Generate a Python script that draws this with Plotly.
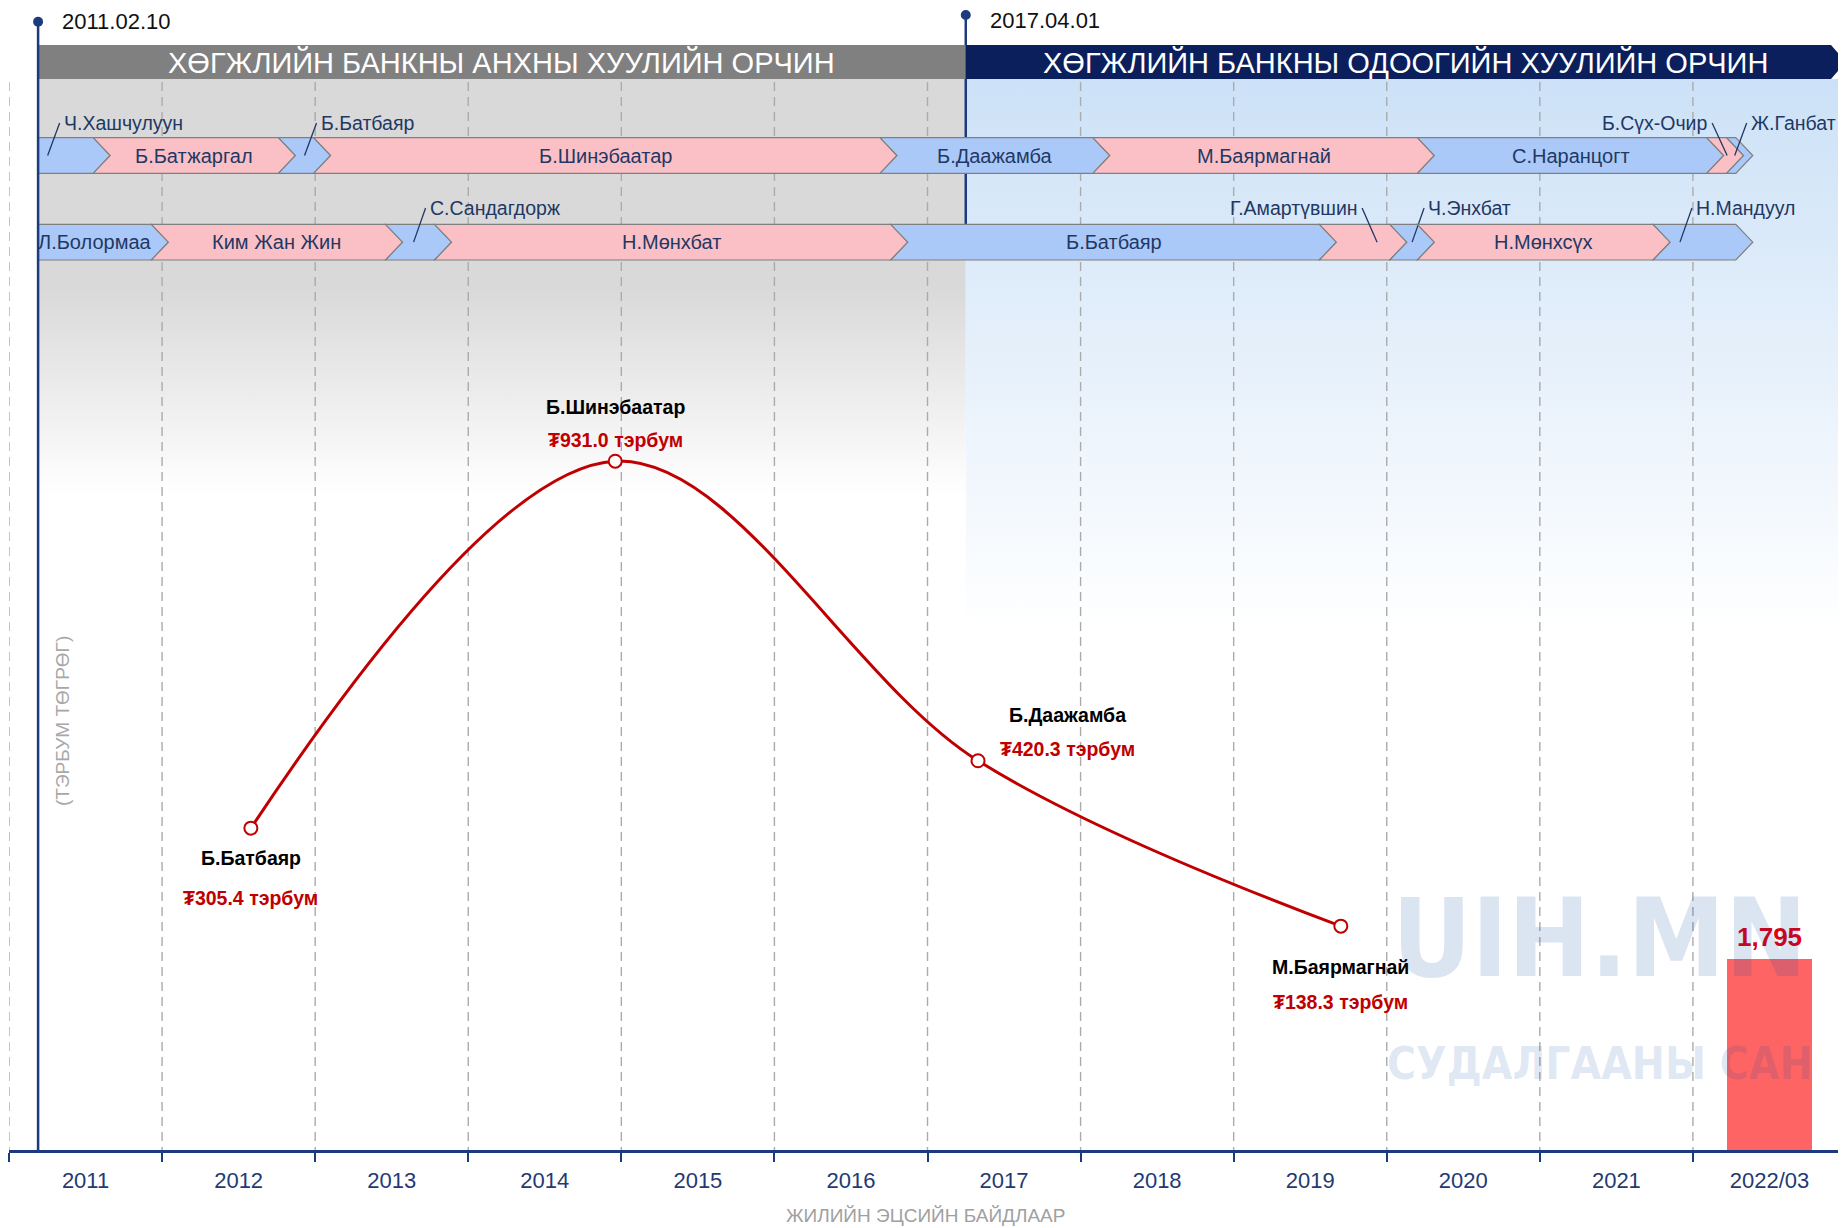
import plotly.graph_objects as go

# ---------------- data ----------------
year_labels = ["2011", "2012", "2013", "2014", "2015", "2016", "2017",
               "2018", "2019", "2020", "2021", "2022/03"]
first_year = 2011

law_dates = ["2011.02.10", "2017.04.01"]
law_starts = [2011.19, 2017.25]
law_end = 2023.0
law_titles = ["ХӨГЖЛИЙН БАНКНЫ АНХНЫ ХУУЛИЙН ОРЧИН",
              "ХӨГЖЛИЙН БАНКНЫ ОДООГИЙН ХУУЛИЙН ОРЧИН"]

row1_start = 2011.19
row1_names = ["Ч.Хашчулуун", "Б.Батжаргал", "Б.Батбаяр", "Б.Шинэбаатар", "Б.Даажамба",
              "М.Баярмагнай", "С.Наранцогт", "Б.Сүх-Очир", "Ж.Ганбат"]
row1_ends = [2011.55, 2012.76, 2012.99, 2016.69, 2018.08, 2020.20, 2022.09, 2022.22, 2022.28]

row2_start = 2011.19
row2_names = ["Л.Болормаа", "Ким Жан Жин", "С.Сандагдорж", "Н.Мөнхбат", "Б.Батбаяр",
              "Г.Амартүвшин", "Ч.Энхбат", "Н.Мөнхсүх", "Н.Мандуул"]
row2_ends = [2011.93, 2013.46, 2013.78, 2016.76, 2019.56, 2020.02, 2020.20, 2021.74, 2022.28]

curve_names = ["Б.Батбаяр", "Б.Шинэбаатар", "Б.Даажамба", "М.Баярмагнай"]
curve_x = [2012.58, 2014.96, 2017.33, 2019.70]
curve_values = [305.4, 931.0, 420.3, 138.3]

bar_x = [2022.5]
bar_values = [1795]

# ---------------- style / layout helpers ----------------
row1_label_mode = ["right", "in", "right", "in", "in", "in", "in", "left", "right"]
row2_label_mode = ["in", "in", "right", "in", "in", "left", "right", "in", "right"]
# horizontal nudge (px) of the leader-line anchor for outside labels
row1_leader_nudge = [-18, 0, 0, 0, 0, 0, 0, 2, -5]
row2_leader_nudge = [0, 0, -5, 0, 0, 14, 0, 0, -23]
# (xshift, name yshift, value yshift) in px
curve_label_offsets = [(0, -30, -70), (0, 54, 21), (89, 46, 12), (0, -41, -76)]

W, H = 1846, 1228
OFF = 8                      # page body margin of the html page
AX_LEFT = 9.4                # screen x of the first year boundary
AX_BOTTOM = 1150             # screen y of the x axis line
ML = 1
MR = 8
MB = H - (AX_BOTTOM - OFF)
PLOT_W = W - ML - MR
PLOT_H = AX_BOTTOM - OFF
PX_PER_YEAR = PLOT_W / 12.0


def dx(px):
    return px / PX_PER_YEAR


def Y(px):  # screen pixel row -> y coordinate on pixel axis
    return AX_BOTTOM - px


def paper_x(px):
    return (px - OFF - ML) / PLOT_W


def paper_y(px):
    return (AX_BOTTOM - px) / PLOT_H


FONT = "Liberation Sans, Arial, sans-serif"
NAVY = "#1c3a7e"
HEAD_NAVY = "#0a1f5c"
LABEL_NAVY = "#1f3864"
BLUE = "#abc9f8"
PINK = "#fbc0c5"
RED = "#c00000"

# line scale: value 0 at screen px 1007.3, 0.5866 px per unit
LINE_ZERO_PX, LINE_PX_UNIT = 1007.3, 0.5866
line_range = [-(AX_BOTTOM - LINE_ZERO_PX) / LINE_PX_UNIT, (LINE_ZERO_PX - OFF) / LINE_PX_UNIT]
# bar scale: 1795 units = 191 px
BAR_PX_UNIT = 191.0 / 1795.0
bar_range = [0, PLOT_H / BAR_PX_UNIT]

fig = go.Figure()

# backgrounds (gradients)
g0, g1 = law_starts[0], law_starts[1]
fig.add_trace(go.Scatter(
    x=[g0, g1, g1, g0, g0], y=[Y(79), Y(79), Y(495), Y(495), Y(79)],
    mode="lines", line=dict(width=0), fill="toself",
    fillgradient=dict(type="vertical", start=Y(495), stop=Y(79),
                      colorscale=[[0, "#ffffff"], [0.5, "#d9d9d9"], [1, "#d9d9d9"]]),
    hoverinfo="skip", showlegend=False, xaxis="x", yaxis="y"))
fig.add_trace(go.Scatter(
    x=[g1, law_end, law_end, g1, g1], y=[Y(79), Y(79), Y(630), Y(630), Y(79)],
    mode="lines", line=dict(width=0), fill="toself",
    fillgradient=dict(type="vertical", start=Y(630), stop=Y(79),
                      colorscale=[[0, "#ffffff"], [1, "#cce1f7"]]),
    hoverinfo="skip", showlegend=False, xaxis="x", yaxis="y"))

# dashed year gridlines
gx, gy = [], []
for yr in range(first_year, first_year + len(year_labels) + 1):
    gx += [yr, yr, None]
    gy += [Y(82), Y(AX_BOTTOM), None]
fig.add_trace(go.Scatter(x=gx, y=gy, mode="lines",
                         line=dict(color="#ababab", width=1.4, dash="9px,6px"),
                         hoverinfo="skip", showlegend=False, xaxis="x", yaxis="y"))

# loss curve
fig.add_trace(go.Scatter(
    x=curve_x, y=curve_values, mode="lines+markers",
    line=dict(color=RED, width=3, shape="spline", smoothing=1.0),
    marker=dict(symbol="circle", size=13, color="white", line=dict(color=RED, width=2)),
    hoverinfo="skip", showlegend=False, xaxis="x", yaxis="y2"))

# 2022/03 bar
fig.add_trace(go.Bar(
    x=bar_x, y=bar_values, width=0.553, marker=dict(color="#ff6464", line=dict(width=0)),
    hoverinfo="skip", showlegend=False, xaxis="x", yaxis="y3"))

shapes = []
annotations = []

# 2017 law vertical line (below chevrons)
shapes.append(dict(type="line", xref="x", yref="y", x0=law_starts[1], x1=law_starts[1],
                   y0=Y(15), y1=Y(224), line=dict(color=NAVY, width=2.5), layer="above"))

# header bars
HT, HB = Y(45), Y(79)
HM = (HT + HB) / 2
shapes.append(dict(type="rect", xref="x", yref="y", x0=law_starts[0], x1=law_starts[1],
                   y0=HB, y1=HT, fillcolor="#808080", line=dict(width=0), layer="above"))
tip = dx(15)
shapes.append(dict(type="path", xref="x", yref="y",
                   path=f"M {law_starts[1]},{HT} L {law_end - tip},{HT} L {law_end},{HM} "
                        f"L {law_end - tip},{HB} L {law_starts[1]},{HB} Z",
                   fillcolor=HEAD_NAVY, line=dict(width=0), layer="above"))
annotations.append(dict(x=(law_starts[0] + law_starts[1]) / 2, y=HM, xref="x", yref="y",
                        text=law_titles[0], showarrow=False, xanchor="center", yanchor="middle",
                        font=dict(family=FONT, size=29, color="white")))
annotations.append(dict(x=(law_starts[1] + law_end) / 2, y=HM, xref="x", yref="y",
                        text=law_titles[1], showarrow=False, xanchor="center", yanchor="middle",
                        font=dict(family=FONT, size=29, color="white")))

# chevron rows
D = dx(17)


def add_row(start, names, ends, modes, nudges, top_px, bot_px, label_px):
    top, bot = Y(top_px), Y(bot_px)
    mid = (top + bot) / 2
    ly = Y(label_px)
    a = start
    for i, (name, b, mode, nudge) in enumerate(zip(names, ends, modes, nudges)):
        first = i == 0
        path = f"M {a},{top} L {b},{top} L {b + D},{mid} L {b},{bot} L {a},{bot}"
        if not first:
            path += f" L {a + D},{mid}"
        path += " Z"
        shapes.append(dict(type="path", xref="x", yref="y", path=path,
                           fillcolor=BLUE if i % 2 == 0 else PINK,
                           line=dict(color="#7f7f7f", width=1.2), layer="above"))
        xc = (a + b) / 2 if first else (a + b + D) / 2
        if mode == "in":
            annotations.append(dict(x=xc, y=mid, xref="x", yref="y", text=name,
                                    showarrow=False, xanchor="center", yanchor="middle",
                                    font=dict(family=FONT, size=20, color=LABEL_NAVY)))
        else:
            xc += dx(nudge)
            sgn = 1 if mode == "right" else -1
            xt = xc + sgn * dx(12 if sgn > 0 else 15)
            shapes.append(dict(type="line", xref="x", yref="y", x0=xc, y0=mid, x1=xt, y1=ly,
                               line=dict(color=LABEL_NAVY, width=1.3), layer="above"))
            annotations.append(dict(x=xt + sgn * dx(2), y=ly, xref="x", yref="y", text=name,
                                    showarrow=False, xanchor="left" if sgn > 0 else "right",
                                    yanchor="middle",
                                    font=dict(family=FONT, size=19.5, color=LABEL_NAVY)))
        a = b


add_row(row1_start, row1_names, row1_ends, row1_label_mode, row1_leader_nudge,
        137.7, 173.3, 123)
add_row(row2_start, row2_names, row2_ends, row2_label_mode, row2_leader_nudge,
        224.3, 260.0, 208)

# 2011 law line (on top), dots and dates
shapes.append(dict(type="line", xref="x", yref="y", x0=law_starts[0], x1=law_starts[0],
                   y0=Y(22), y1=Y(AX_BOTTOM), line=dict(color=NAVY, width=2.5), layer="above"))
for xs, dpx, tpx, label in zip(law_starts, [21.7, 15.0], [21.5, 20.0], law_dates):
    shapes.append(dict(type="circle", xref="x", yref="y", xsizemode="pixel", ysizemode="pixel",
                       xanchor=xs, yanchor=Y(dpx), x0=-5, x1=5, y0=-5, y1=5,
                       fillcolor=NAVY, line=dict(width=0), layer="above"))
    annotations.append(dict(x=xs + dx(22), y=Y(tpx), xref="x", yref="y", text=label,
                            showarrow=False, xanchor="left", yanchor="middle",
                            font=dict(family=FONT, size=22, color="#111111")))

# curve labels
for name, xv, v, (xs, ns, vs) in zip(curve_names, curve_x, curve_values, curve_label_offsets):
    annotations.append(dict(x=xv, y=v, xref="x", yref="y2", text=f"<b>{name}</b>",
                            showarrow=False, xshift=xs, yshift=ns,
                            xanchor="center", yanchor="middle",
                            font=dict(family=FONT, size=19.5, color="#000000")))
    annotations.append(dict(x=xv, y=v, xref="x", yref="y2", text=f"<b>₮{v:.1f} тэрбум</b>",
                            showarrow=False, xshift=xs, yshift=vs,
                            xanchor="center", yanchor="middle",
                            font=dict(family=FONT, size=19.5, color=RED)))

# bar label
for xv, v in zip(bar_x, bar_values):
    annotations.append(dict(x=xv, y=v, xref="x", yref="y3", text=f"<b>{v:,.0f}</b>",
                            showarrow=False, yshift=22, xanchor="center", yanchor="middle",
                            font=dict(family=FONT, size=26, color="#e00010")))

# watermark
wm_x = first_year + dx(1600 - AX_LEFT)
annotations.append(dict(x=wm_x, y=Y(938), xref="x", yref="y",
                        text="<b>UIH.MN</b>", showarrow=False, xanchor="center", yanchor="middle",
                        font=dict(family="DejaVu Sans Condensed, DejaVu Sans", size=109,
                                  color="rgba(0,72,163,0.14)")))
annotations.append(dict(x=wm_x, y=Y(1063), xref="x", yref="y",
                        text="<b>СУДАЛГААНЫ САН</b>", showarrow=False,
                        xanchor="center", yanchor="middle",
                        font=dict(family="DejaVu Sans Condensed, DejaVu Sans", size=44,
                                  color="rgba(0,72,163,0.14)")))

# axis titles
annotations.append(dict(x=paper_x(925), y=paper_y(1215), xref="paper", yref="paper",
                        text="ЖИЛИЙН ЭЦСИЙН БАЙДЛААР", showarrow=False,
                        xanchor="center", yanchor="middle",
                        font=dict(family=FONT, size=19, color="#a0a0a0")))
annotations.append(dict(x=paper_x(62), y=paper_y(721), xref="paper",
                        yref="paper", text="(ТЭРБУМ ТӨГРӨГ)", textangle=-90, showarrow=False,
                        xanchor="center", yanchor="middle",
                        font=dict(family=FONT, size=19, color="#a8a8a8")))

fig.update_layout(
    width=W, height=H,
    margin=dict(l=ML, r=MR, t=0, b=MB, pad=0),
    paper_bgcolor="white", plot_bgcolor="white",
    showlegend=False, bargap=0,
    shapes=shapes, annotations=annotations,
    xaxis=dict(range=[first_year, first_year + len(year_labels)],
               tickmode="array",
               tickvals=[first_year + i + 0.5 for i in range(len(year_labels))],
               ticktext=year_labels, ticks="", ticklabelstandoff=9,
               tickfont=dict(family=FONT, size=22, color="#1f3a75"),
               showgrid=False, zeroline=False,
               showline=True, linecolor=NAVY, linewidth=3,
               minor=dict(tickmode="array",
                          tickvals=list(range(first_year, first_year + len(year_labels) + 1)),
                          ticks="outside", ticklen=9, tickwidth=1.5, tickcolor=NAVY,
                          showgrid=False),
               fixedrange=True),
    yaxis=dict(range=[0, PLOT_H], visible=False, fixedrange=True),
    yaxis2=dict(range=line_range, overlaying="y", visible=False, fixedrange=True),
    yaxis3=dict(range=bar_range, overlaying="y", visible=False, fixedrange=True),
)

fig.write_html("out.html")
